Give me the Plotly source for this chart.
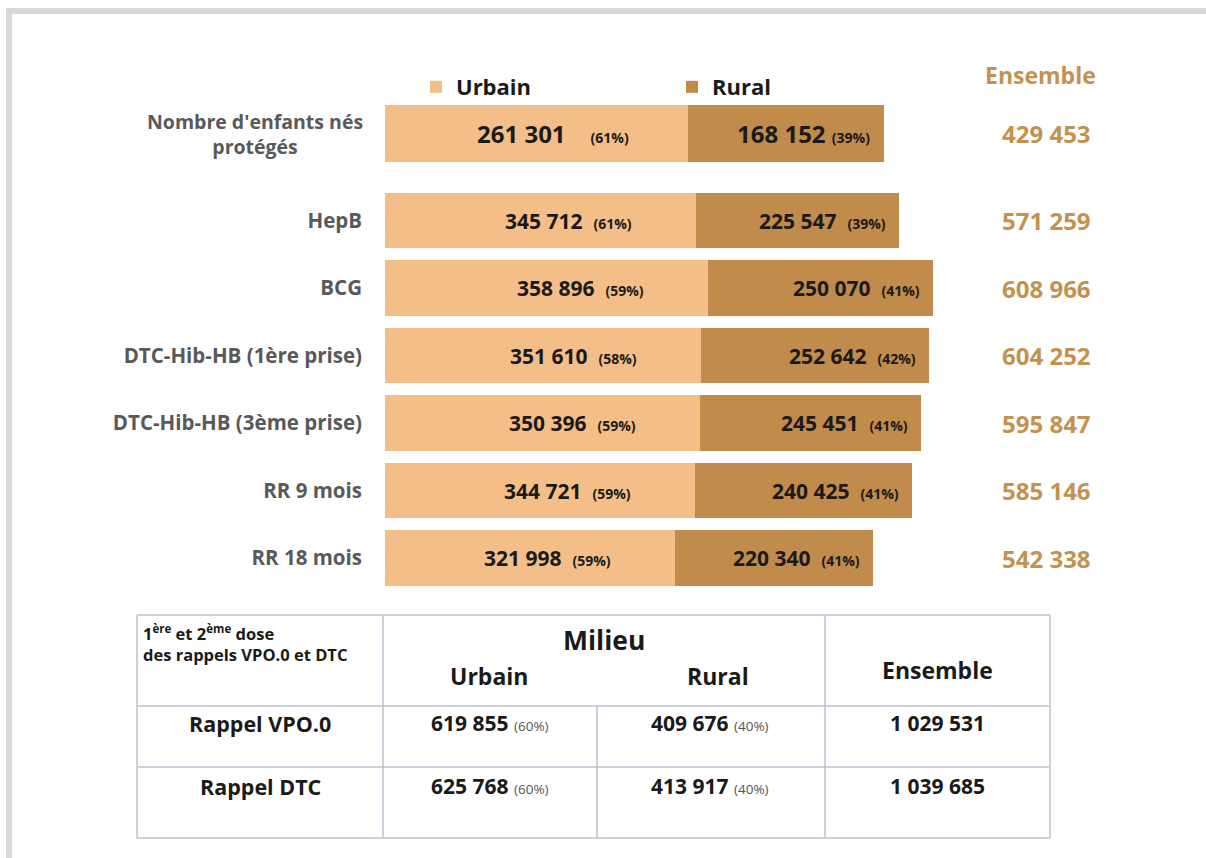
import plotly.graph_objects as go

# ---------------- data ----------------
top_label = "Nombre d'enfants nés<br>protégés"
top_urbain = [261301]
top_rural = [168152]
top_pct_urbain = [61]
top_pct_rural = [39]
top_ensemble = [429453]

vaccins = ["HepB", "BCG", "DTC-Hib-HB (1ère prise)", "DTC-Hib-HB (3ème prise)",
           "RR 9 mois", "RR 18 mois"]
urbain = [345712, 358896, 351610, 350396, 344721, 321998]
rural = [225547, 250070, 252642, 245451, 240425, 220340]
pct_urbain = [61, 59, 58, 59, 59, 59]
pct_rural = [39, 41, 42, 41, 41, 41]
ensemble = [571259, 608966, 604252, 595847, 585146, 542338]

table_rows = ["Rappel VPO.0", "Rappel DTC"]
table_urbain = [619855, 625768]
table_rural = [409676, 413917]
table_pct_urbain = [60, 60]
table_pct_rural = [40, 40]
table_ensemble = [1029531, 1039685]

# ---------------- style ----------------
W, H = 1206, 858
C_URB = "#F3BE87"
C_RUR = "#C08B4B"
C_ENS = "#C4924E"
C_LAB = "#595959"
C_TXT = "#1a1a1a"
C_GRID = "#bcc3d3"
FONT = "Open Sans"


def px(x):
    return x / W


def py(y):
    return 1 - y / H


def fmt(v):
    return f"{v:,}".replace(",", " ")


NB = "\u00a0"

fig = go.Figure()

# main rows
fig.add_trace(go.Bar(y=vaccins, x=urbain, orientation="h", name="Urbain",
                     marker=dict(color=C_URB, line=dict(width=0)),
                     xaxis="x", yaxis="y", hoverinfo="skip"))
fig.add_trace(go.Bar(y=vaccins, x=rural, orientation="h", name="Rural",
                     marker=dict(color=C_RUR, line=dict(width=0)),
                     xaxis="x", yaxis="y", hoverinfo="skip"))
# top row (own scale)
fig.add_trace(go.Bar(y=[top_label], x=top_urbain, orientation="h", name="Urbain",
                     marker=dict(color=C_URB, line=dict(width=0)), showlegend=False,
                     xaxis="x2", yaxis="y2", hoverinfo="skip"))
fig.add_trace(go.Bar(y=[top_label], x=top_rural, orientation="h", name="Rural",
                     marker=dict(color=C_RUR, line=dict(width=0)), showlegend=False,
                     xaxis="x2", yaxis="y2", hoverinfo="skip"))

ann = []

# bar value labels (main rows)
for v, u, r, pu, pr, e in zip(vaccins, urbain, rural, pct_urbain, pct_rural, ensemble):
    ann.append(dict(x=u, y=v, xref="x", yref="y", xanchor="right", yanchor="middle",
                    xshift=-62, showarrow=False,
                    text=f"<b>{fmt(u)}{NB}{NB}<span style='font-size:14px'>({pu}%)</span></b>",
                    font=dict(family=FONT, size=21, color=C_TXT)))
    ann.append(dict(x=u + r, y=v, xref="x", yref="y", xanchor="right", yanchor="middle",
                    xshift=-11, showarrow=False,
                    text=f"<b>{fmt(r)}{NB}{NB}<span style='font-size:14px'>({pr}%)</span></b>",
                    font=dict(family=FONT, size=21, color=C_TXT)))
    ann.append(dict(x=px(1046), y=v, xref="paper", yref="y", xanchor="center",
                    yanchor="middle", showarrow=False, text=f"<b>{fmt(e)}</b>",
                    font=dict(family=FONT, size=24, color=C_ENS)))

# top row labels
ann.append(dict(x=top_urbain[0], y=top_label, xref="x2", yref="y2", xanchor="right",
                yanchor="middle", xshift=-57, showarrow=False,
                text=f"<b>{fmt(top_urbain[0])}{NB}{NB}{NB}{NB}<span style='font-size:14px'>({top_pct_urbain[0]}%)</span></b>",
                font=dict(family=FONT, size=24, color=C_TXT)))
ann.append(dict(x=top_urbain[0] + top_rural[0], y=top_label, xref="x2", yref="y2",
                xanchor="right", yanchor="middle", xshift=-12, showarrow=False,
                text=f"<b>{fmt(top_rural[0])}{NB}<span style='font-size:14px'>({top_pct_rural[0]}%)</span></b>",
                font=dict(family=FONT, size=24, color=C_TXT)))
ann.append(dict(x=px(1046), y=top_label, xref="paper", yref="y2", xanchor="center",
                yanchor="middle", showarrow=False, text=f"<b>{fmt(top_ensemble[0])}</b>",
                font=dict(family=FONT, size=24, color=C_ENS)))
ann.append(dict(x=px(365), y=top_label, xref="paper", yref="y2", xanchor="right",
                yanchor="middle", align="center", showarrow=False,
                text=f"<b>{top_label}</b>",
                font=dict(family=FONT, size=19.5, color=C_LAB)))
# Ensemble header
ann.append(dict(x=px(1040), y=py(75), xref="paper", yref="paper", xanchor="center",
                yanchor="middle", showarrow=False, text="<b>Ensemble</b>",
                font=dict(family=FONT, size=23, color=C_ENS)))

# ---------------- table ----------------
tx0, tx1 = 137, 1050
ty0, ty1 = 615, 838
col1, col2, colm = 383, 825, 597
row1, row2 = 706, 767
shapes = []


def hline(y, x0, x1):
    shapes.append(dict(type="line", xref="paper", yref="paper", x0=px(x0), x1=px(x1),
                       y0=py(y), y1=py(y), line=dict(color=C_GRID, width=1.5)))


def vline(x, y0, y1):
    shapes.append(dict(type="line", xref="paper", yref="paper", x0=px(x), x1=px(x),
                       y0=py(y0), y1=py(y1), line=dict(color=C_GRID, width=1.5)))


for y in (ty0, row1, row2, ty1):
    hline(y, tx0, tx1)
for x in (tx0, col1, col2, tx1):
    vline(x, ty0, ty1)
vline(colm, row1, ty1)

# frame of the figure
shapes.append(dict(type="rect", xref="paper", yref="paper", x0=px(6), x1=px(12),
                   y0=0, y1=py(8), fillcolor="#d9d9d9", line=dict(width=0), layer="below"))
shapes.append(dict(type="rect", xref="paper", yref="paper", x0=px(6), x1=1,
                   y0=py(14), y1=py(8), fillcolor="#d9d9d9", line=dict(width=0), layer="below"))

# table texts
ann.append(dict(x=px(141), y=py(619), xref="paper", yref="paper", xanchor="left",
                yanchor="top", align="left", showarrow=False,
                text="<b>1<sup>ère</sup> et 2<sup>ème</sup> dose<br>des rappels VPO.0 et DTC</b>",
                font=dict(family=FONT, size=16.5, color=C_TXT)))
ann.append(dict(x=px(604), y=py(640), xref="paper", yref="paper", xanchor="center",
                yanchor="middle", showarrow=False, text="<b>Milieu</b>",
                font=dict(family=FONT, size=26.5, color=C_TXT)))
ann.append(dict(x=px(489), y=py(676), xref="paper", yref="paper", xanchor="center",
                yanchor="middle", showarrow=False, text="<b>Urbain</b>",
                font=dict(family=FONT, size=23, color=C_TXT)))
ann.append(dict(x=px(718), y=py(676), xref="paper", yref="paper", xanchor="center",
                yanchor="middle", showarrow=False, text="<b>Rural</b>",
                font=dict(family=FONT, size=23, color=C_TXT)))
ann.append(dict(x=px(937), y=py(670), xref="paper", yref="paper", xanchor="center",
                yanchor="middle", showarrow=False, text="<b>Ensemble</b>",
                font=dict(family=FONT, size=23, color=C_TXT)))

row_y = [723, 786]
for ry, name, u, r, pu, pr, e in zip(row_y, table_rows, table_urbain, table_rural,
                                      table_pct_urbain, table_pct_rural, table_ensemble):
    ann.append(dict(x=px(260), y=py(ry), xref="paper", yref="paper", xanchor="center",
                    yanchor="middle", showarrow=False, text=f"<b>{name}</b>",
                    font=dict(family=FONT, size=21.5, color=C_TXT)))
    ann.append(dict(x=px(490), y=py(ry), xref="paper", yref="paper", xanchor="center",
                    yanchor="middle", showarrow=False,
                    text=f"<b>{fmt(u)}</b> <span style='font-size:13.5px;color:#555'>({pu}%)</span>",
                    font=dict(family=FONT, size=21, color=C_TXT)))
    ann.append(dict(x=px(710), y=py(ry), xref="paper", yref="paper", xanchor="center",
                    yanchor="middle", showarrow=False,
                    text=f"<b>{fmt(r)}</b> <span style='font-size:13.5px;color:#555'>({pr}%)</span>",
                    font=dict(family=FONT, size=21, color=C_TXT)))
    ann.append(dict(x=px(937), y=py(ry), xref="paper", yref="paper", xanchor="center",
                    yanchor="middle", showarrow=False, text=f"<b>{fmt(e)}</b>",
                    font=dict(family=FONT, size=21, color=C_TXT)))

# ---------------- layout ----------------
bargap = 0.18
main_top, main_bot = 186.75, 591.75
top_c, top_h = 133.5, 57 / (1 - bargap)

fig.update_layout(
    width=W, height=H, autosize=False,
    margin=dict(l=0, r=0, t=0, b=0),
    paper_bgcolor="white", plot_bgcolor="white",
    barmode="stack", bargap=bargap,
    font=dict(family=FONT, color=C_TXT),
    xaxis=dict(domain=[px(385), px(1105)], range=[0, 800000], visible=False,
               anchor="y"),
    xaxis2=dict(domain=[px(385), px(1105)], range=[0, 620000], visible=False,
                anchor="y2"),
    yaxis=dict(domain=[py(main_bot), py(main_top)], type="category",
               categoryorder="array", categoryarray=vaccins, range=[5.5, -0.5],
               showgrid=False, zeroline=False, showline=False, ticks="",
               ticklabelstandoff=22, anchor="x",
               tickfont=dict(family=FONT, size=20.5, color=C_LAB, weight="bold")),
    yaxis2=dict(domain=[py(top_c + top_h / 2), py(top_c - top_h / 2)], type="category",
                range=[-0.5, 0.5], showgrid=False, zeroline=False, showline=False,
                showticklabels=False, anchor="x2"),
    legend=dict(orientation="h", x=px(416), y=py(66), xanchor="left", yanchor="top",
                entrywidth=211, entrywidthmode="pixels", traceorder="normal",
                font=dict(family=FONT, size=22, color=C_TXT, weight="bold"),
                bgcolor="rgba(0,0,0,0)"),
    annotations=ann,
    shapes=shapes,
)

fig.write_html("out.html", config={"displayModeBar": False},
               post_script="document.body.style.margin='0';")
